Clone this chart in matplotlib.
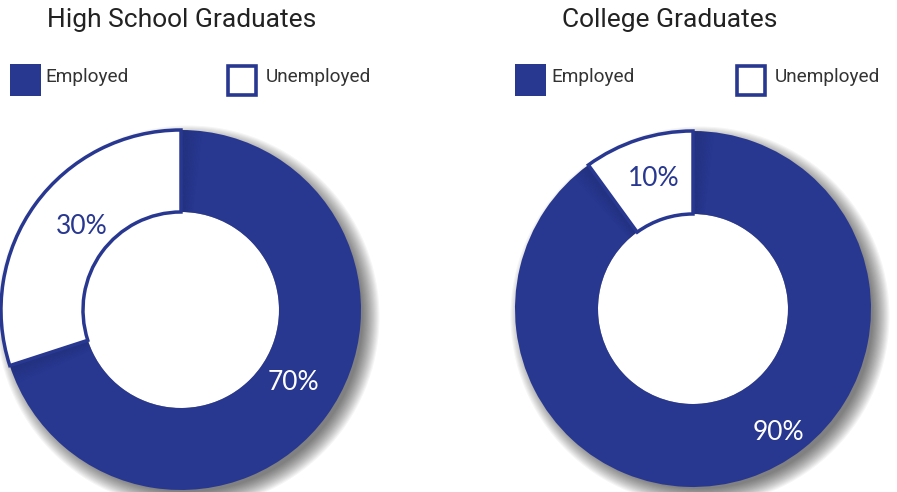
import matplotlib.pyplot as plt
from matplotlib.patches import Circle, Wedge, Rectangle
import numpy as np

# data
titles = ["High School Graduates", "College Graduates"]
categories = ["Employed", "Unemployed"]
employed = [70, 90]
unemployed = [30, 10]

BLUE = "#283891"
W, H = 897, 492

fig = plt.figure(figsize=(W / 100, H / 100), dpi=100)
fig.patch.set_facecolor("white")

# layout of each donut in pixels: centre x, centre y (from top), outer r, inner r
donuts = [(181, 310, 180, 98), (693, 309, 178, 95)]
HALF = 215


def donut_axes(cx, cy):
    ax = fig.add_axes([(cx - HALF) / W, (H - cy - HALF) / H, 2 * HALF / W, 2 * HALF / H])
    return ax


for k in range(2):
    cx, cy, r, ri = donuts[k]
    ax = donut_axes(cx, cy)
    vals = [employed[k], unemployed[k]]

    # soft drop shadow, bottom right
    for i in range(16):
        ax.add_patch(Circle((7, -7), r - 5 + i * 1.1, color="black", alpha=0.04, lw=0, zorder=1))
    ax.add_patch(Circle((0, 0), ri, color="white", lw=0, zorder=2))

    wedges, _ = ax.pie(vals, radius=r, startangle=90, counterclock=False,
                       colors=[BLUE, "white"],
                       wedgeprops=dict(width=r - ri, linewidth=0))
    for w in wedges:
        w.set_zorder(3)
    wedges[1].set_edgecolor(BLUE)
    wedges[1].set_linewidth(2.5)
    wedges[1].set_zorder(5)

    # shading on the employed side of each slice boundary
    start = 90
    end = 90 - 360 * vals[0] / sum(vals)
    n = 14
    for j in range(n):
        a = 0.5 * (1 - j / n)
        ax.add_patch(Wedge((0, 0), r, start - (j + 1) * 0.5, start - j * 0.5, width=r - ri,
                           color="black", alpha=a * 0.25, lw=0, zorder=4))
        ax.add_patch(Wedge((0, 0), r, end + j * 0.45, end + (j + 1) * 0.45, width=r - ri,
                           color="black", alpha=a * 0.25, lw=0, zorder=4))

    ax.set_xlim(-HALF, HALF)
    ax.set_ylim(-HALF, HALF)
    ax.set_aspect("equal")
    ax.axis("off")

# overlay for titles, legends and labels (pixel coordinates)
ov = fig.add_axes([0, 0, 1, 1])
ov.set_xlim(0, W)
ov.set_ylim(H, 0)
ov.axis("off")

title_x = [182, 670]
for k in range(2):
    ov.text(title_x[k], 20, titles[k], ha="center", va="center", fontsize=19,
            family="Roboto", color="#222222")

# legends: (square x, text x) for each entry
legend_pos = [[(10, 45), (226, 266)], [(515, 551), (735, 775)]]
for k in range(2):
    for c, (sx, tx) in enumerate(legend_pos[k]):
        if c == 0:
            ov.add_patch(Rectangle((sx, 64), 31, 32, facecolor=BLUE, edgecolor="none"))
        else:
            ov.add_patch(Rectangle((sx + 1.5, 65.5), 28, 29, facecolor="white",
                                   edgecolor=BLUE, linewidth=2.6))
        ov.text(tx, 77, categories[c], ha="left", va="center", fontsize=13.7,
                family="Roboto", color="#333333")

# percentage labels
label_pos = [[(293, 382), (82, 226)], [(778, 433), (654, 179)]]
for k in range(2):
    vals = [employed[k], unemployed[k]]
    for c in range(2):
        x, y = label_pos[k][c]
        ov.text(x, y, f"{vals[c]}%", ha="center", va="center", fontsize=19,
                family="Lato", color="white" if c == 0 else BLUE)

fig.savefig("out.png", dpi=100, facecolor="white")
